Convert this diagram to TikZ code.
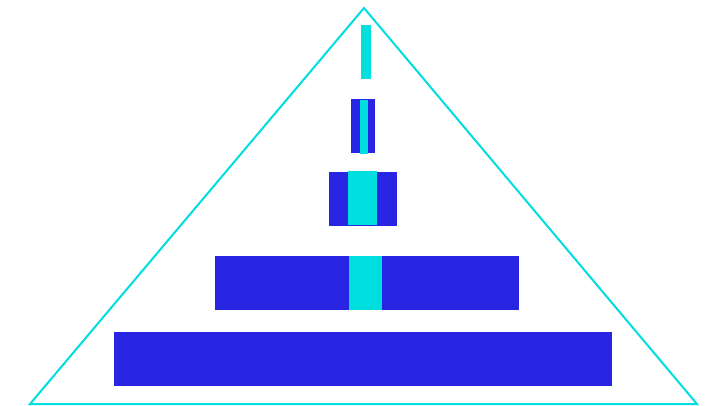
\documentclass[tikz,border=0pt]{standalone}
\usetikzlibrary{positioning}

\definecolor{pyrcyan}{RGB}{0,222,224}
\definecolor{pyrblue}{RGB}{40,38,226}

\tikzset{
  outline/.style={draw=pyrcyan, line width=2pt, line join=miter},
  outer/.style={fill=pyrblue},
  inner/.style={fill=pyrcyan}
}

\begin{document}
\begin{tikzpicture}[x=1pt, y=-1pt]
    \useasboundingbox (0,0) rectangle (705,405);
    % corners of the triangle
    \coordinate (apex)  at (364,8);
    \coordinate (left)  at (30,404);
    \coordinate (right) at (697,404);
    \draw[outline] (apex) -- (left) -- (right) -- cycle;

    % blue layers, widest at the bottom
    \foreach \xa/\ya/\xb/\yb in {351/99/375/153, 329/172/397/226, 215/256/519/310, 114/332/612/386}
      \fill[outer] (\xa,\ya) rectangle (\xb,\yb);

    % cyan cores (top one stands alone)
    \foreach \xa/\ya/\xb/\yb in {361/25/371/79, 360/100/368/154, 348/171/377/225, 349/256/382/310}
      \fill[inner] (\xa,\ya) rectangle (\xb,\yb);
  \end{tikzpicture}
\end{document}
